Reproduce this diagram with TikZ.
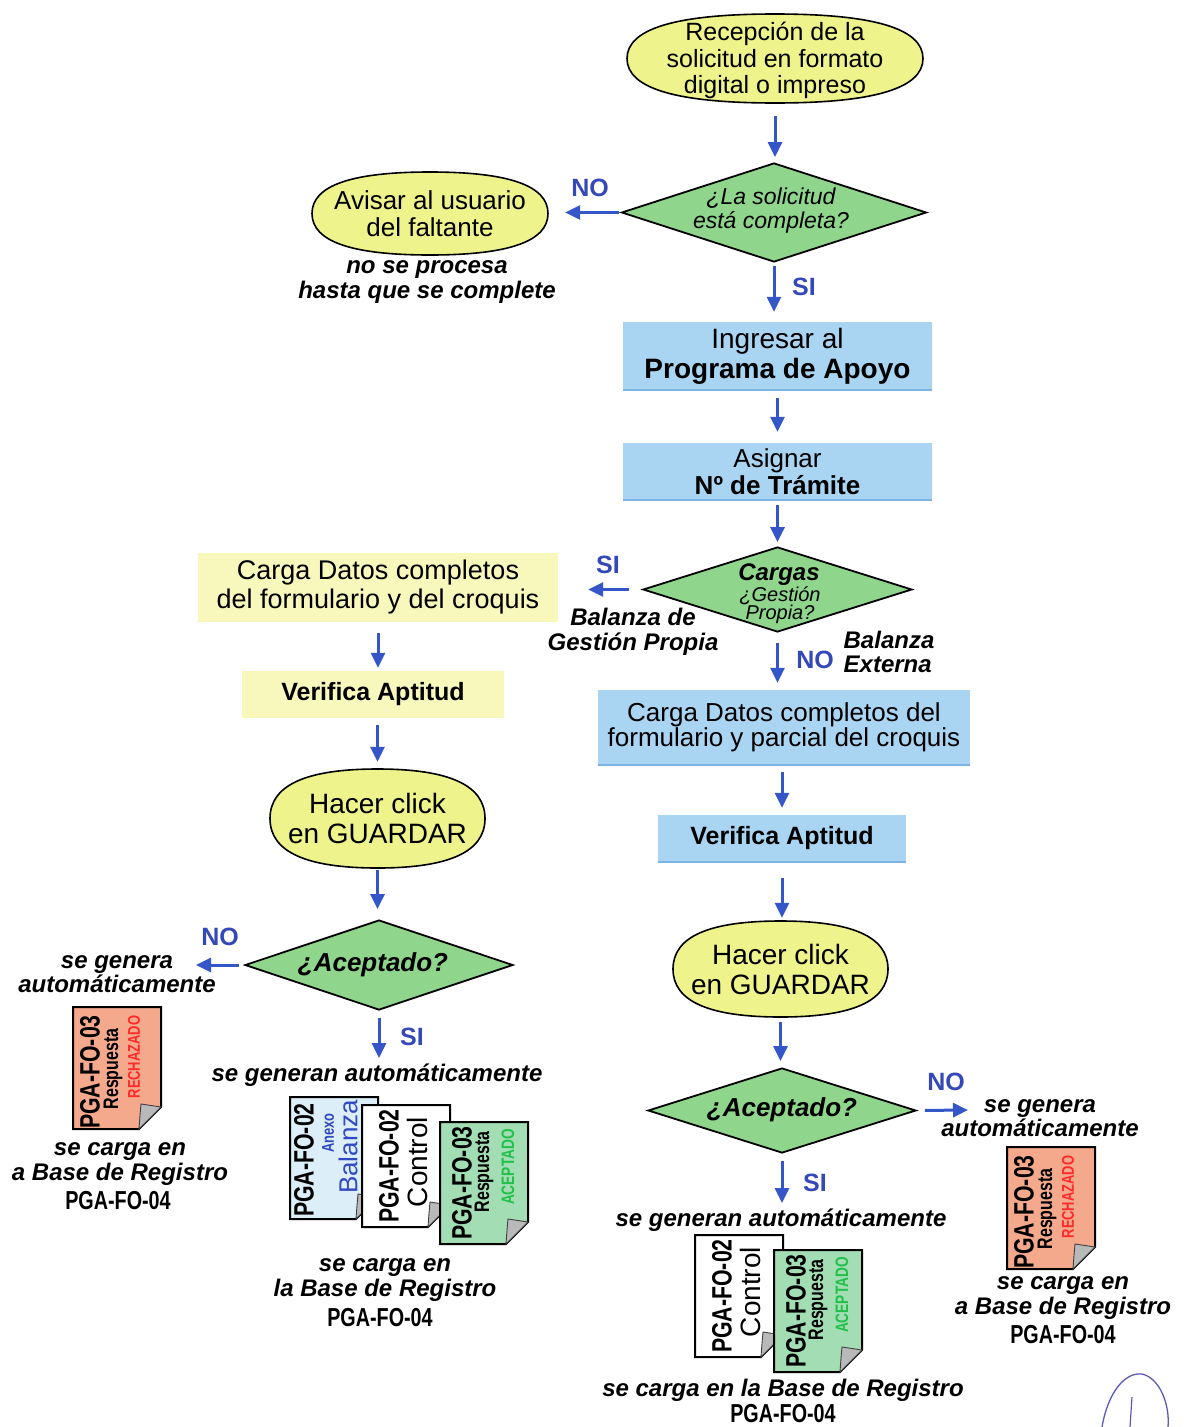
\documentclass[tikz,border=0pt]{standalone}
\usepackage{fontspec}
\setmainfont{Liberation Sans}
\newfontfamily\narrowf[FakeStretch=0.76]{Liberation Sans}
\usetikzlibrary{shapes.geometric,arrows.meta}
\definecolor{ellfill}{HTML}{EEF38C}
\definecolor{diafill}{HTML}{8FD68C}
\definecolor{bluebox}{HTML}{A9D4F2}
\definecolor{blueedge}{HTML}{7DB4E4}
\definecolor{yelbox}{HTML}{F8F8BC}
\definecolor{arrowblue}{HTML}{3556C8}
\definecolor{lblblue}{HTML}{3548B8}
\definecolor{rejfill}{HTML}{F4A88C}
\definecolor{accfill}{HTML}{A2DDB4}
\definecolor{anxfill}{HTML}{DCEEF8}
\definecolor{rejtext}{HTML}{FF2A2A}
\definecolor{acctext}{HTML}{22C04A}
\definecolor{anxtext}{HTML}{3048C0}
\definecolor{sigcol}{HTML}{5A5AB8}
% full oval: centre x, centre y, half width, half height
\newcommand{\fulloval}[4]{%
  \filldraw[fill=ellfill, draw=black, line width=1.6pt]
    (#1-#3,#2) .. controls (#1-#3,#2-0.68*#4) and (#1-0.66*#3,#2-#4) .. (#1,#2-#4)
    .. controls (#1+0.66*#3,#2-#4) and (#1+#3,#2-0.68*#4) .. (#1+#3,#2)
    .. controls (#1+#3,#2+0.68*#4) and (#1+0.66*#3,#2+#4) .. (#1,#2+#4)
    .. controls (#1-0.66*#3,#2+#4) and (#1-#3,#2+0.68*#4) .. (#1-#3,#2) -- cycle;}
\newcommand{\docframe}[3]{%
  \begin{scope}[shift={(#1,#2)}]
  \filldraw[fill=#3, draw=black, line width=2pt, line join=miter] (0,0) -- (88,0) -- (88,100) -- (66,122) -- (0,122) -- cycle;
  \filldraw[fill=gray!55, draw=black!75, line width=0.9pt] (88,100) .. controls (78,99) .. (68,97) .. controls (67,108) .. (66,122) -- cycle;
  \end{scope}}
\newcommand{\mkdocrej}[3]{%
  \docframe{#2}{#3}{rejfill}
  \begin{scope}[shift={(#2,#3)}]
  \node[dtxt, font=\narrowf\bfseries\fontsize{28}{28}\selectfont] (#1a) at (17,65) {PGA-FO-03};
  \node[dtxt, font=\narrowf\bfseries\fontsize{21}{21}\selectfont] (#1b) at (40,62) {Respuesta};
  \node[dtxt, text=rejtext, font=\narrowf\bfseries\fontsize{17}{17}\selectfont] (#1c) at (61,50) {RECHAZADO};
  \end{scope}}
\newcommand{\mkdocacc}[3]{%
  \docframe{#2}{#3}{accfill}
  \begin{scope}[shift={(#2,#3)}]
  \node[dtxt, font=\narrowf\bfseries\fontsize{28}{28}\selectfont] (#1a) at (22,61) {PGA-FO-03};
  \node[dtxt, font=\narrowf\bfseries\fontsize{21}{21}\selectfont] (#1b) at (44,50) {Respuesta};
  \node[dtxt, text=acctext, font=\narrowf\bfseries\fontsize{18}{18}\selectfont] (#1c) at (68,45) {ACEPTADO};
  \end{scope}}
\newcommand{\mkdocctl}[3]{%
  \docframe{#2}{#3}{white}
  \begin{scope}[shift={(#2,#3)}]
  \node[dtxt, font=\narrowf\bfseries\fontsize{28}{28}\selectfont] (#1a) at (27,61) {PGA-FO-02};
  \node[dtxt, font=\fontsize{28}{28}\selectfont] (#1b) at (55,57) {Control};
  \end{scope}}
\newcommand{\mkdocanx}[3]{%
  \docframe{#2}{#3}{anxfill}
  \begin{scope}[shift={(#2,#3)}]
  \node[dtxt, font=\narrowf\bfseries\fontsize{28}{28}\selectfont] (#1a) at (14,63) {PGA-FO-02};
  \node[dtxt, text=anxtext, font=\narrowf\bfseries\fontsize{17}{17}\selectfont] (#1b) at (38,36) {Anexo};
  \node[dtxt, text=anxtext, font=\fontsize{26}{26}\selectfont] (#1c) at (58,50) {Balanza};
  \end{scope}}
\begin{document}
\begin{tikzpicture}[x=1pt,y=-1pt,
  ovaltxt/.style={rectangle, inner sep=0pt, align=center},
  dia/.style={diamond, draw=black, line width=1.8pt, fill=diafill, inner sep=0pt},
  bbox/.style={rectangle, fill=bluebox, inner sep=0pt, align=center},
  ybox/.style={rectangle, fill=yelbox, inner sep=0pt, align=center},
  bedge/.style={draw=blueedge, line width=2pt},
  txt/.style={inner sep=0pt, align=center},
  dtxt/.style={inner sep=0pt, rotate=90},
  arr/.style={draw=arrowblue, line width=3pt, -{Triangle[length=15pt,width=14pt]}},
  lbl/.style={text=lblblue, font=\bfseries\fontsize{25}{25}\selectfont, inner sep=0pt},
  bi/.style={font=\bfseries\itshape\fontsize{24}{24.5}\selectfont},
  pga/.style={font=\narrowf\bfseries\fontsize{26}{26}\selectfont, inner sep=0pt},
]
\fill[white] (0,0) rectangle (1187,1427);
\useasboundingbox (0,0) rectangle (1187,1427);

% ---------- top part
\fulloval{775}{58.5}{148}{44.5}
\node[ovaltxt, minimum width=296pt, minimum height=89pt, font=\fontsize{25}{26.5}\selectfont] (e1) at (775,60.5) {Recepción de la\\solicitud en formato\\digital o impreso};

\node[dia, minimum width=305pt, minimum height=99pt] (d1) at (774,212.5) {};
\node[txt, font=\itshape\fontsize{23}{24}\selectfont] (d1t) at (771,211) {¿La solicitud\\está completa?};

\fulloval{430}{213.5}{118}{41.5}
\node[ovaltxt, minimum width=236pt, minimum height=83pt, font=\fontsize{26}{27}\selectfont] (e2) at (430,213.5) {Avisar al usuario\\del faltante};
\node[txt, bi] (np) at (427,282) {no se procesa\\hasta que se complete};
\node[lbl] (no1) at (590,188) {NO};
\node[lbl] (si1) at (804,287) {SI};

\node[bbox, minimum width=309pt, minimum height=68pt, font=\fontsize{28}{30}\selectfont] (b1) at (777.5,356) {Ingresar al\\\textbf{Programa de Apoyo}};
\draw[bedge] (b1.south west) -- (b1.south east);
\node[bbox, minimum width=309pt, minimum height=57pt, font=\fontsize{26}{27}\selectfont] (b2) at (777.5,471.5) {Asignar\\\textbf{Nº de Trámite}};
\draw[bedge] (b2.south west) -- (b2.south east);

\node[dia, minimum width=269pt, minimum height=85pt] (d2) at (777.5,589.5) {};
\node[txt, font=\bfseries\itshape\fontsize{24}{24}\selectfont] (d2a) at (779,575) {Cargas};
\node[txt, font=\itshape\fontsize{20}{18}\selectfont] (d2b) at (780,605) {¿Gestión\\Propia?};
\node[lbl] (si2) at (608,565) {SI};
\node[txt, bi] (bal1) at (633,632) {Balanza de\\Gestión Propia};
\node[lbl] (no2) at (815,660) {NO};
\node[txt, bi, align=left] (bal2) at (889,652) {Balanza\\Externa};

\node[ybox, minimum width=360pt, minimum height=69pt, font=\fontsize{27}{29}\selectfont] (y1) at (378,587.5) {Carga Datos completos\\del formulario y del croquis};

% ---------- right column
\node[bbox, minimum width=372pt, minimum height=75pt, font=\fontsize{26}{25}\selectfont] (b3) at (784,727.5) {Carga Datos completos del\\formulario y parcial del croquis};
\draw[bedge] (b3.south west) -- (b3.south east);
\node[bbox, minimum width=248pt, minimum height=47pt, font=\bfseries\fontsize{25}{25}\selectfont] (b4) at (782,838.5) {Verifica Aptitud};
\draw[bedge] (b4.south west) -- (b4.south east);
\fulloval{780.5}{969}{107.5}{48}
\node[ovaltxt, minimum width=215pt, minimum height=96pt, font=\fontsize{28}{30}\selectfont] (e3) at (780.5,969) {Hacer click\\en GUARDAR};
\node[dia, minimum width=268pt, minimum height=85pt] (d3) at (782,1110.5) {};
\node[txt, font=\bfseries\itshape\fontsize{26}{26}\selectfont] (d3t) at (782,1110) {¿Aceptado?};
\node[lbl] (no3) at (946,1082) {NO};
\coordinate (c11) at (968,1110);
\node[txt, bi] (sg2) at (1040,1118) {se genera\\automáticamente};
\mkdocrej{rr}{1007}{1147}
\node[txt, bi] (sc3) at (1063,1298) {se carga en\\a Base de Registro};
\node[pga] (p3) at (1063,1335) {PGA-FO-04};
\node[lbl] (si3) at (815,1183) {SI};
\coordinate (c12) at (782,1203);
\node[txt, bi] (sg3) at (781,1220) {se generan automáticamente};
\mkdocctl{rc}{695}{1235}
\mkdocacc{ra}{774}{1250}
\node[txt, bi] (sc4) at (783,1390) {se carga en la Base de Registro};
\node[pga] (p4) at (783,1414) {PGA-FO-04};

% ---------- left column
\node[ybox, minimum width=262pt, minimum height=47pt, font=\bfseries\fontsize{25}{25}\selectfont] (y2) at (373,694.5) {Verifica Aptitud};
\fulloval{377.5}{818.5}{107.5}{49.5}
\node[ovaltxt, minimum width=215pt, minimum height=99pt, font=\fontsize{28}{30}\selectfont] (e4) at (377.5,818.5) {Hacer click\\en GUARDAR};
\node[dia, minimum width=268pt, minimum height=90pt] (d4) at (379,965) {};
\node[txt, font=\bfseries\itshape\fontsize{26}{26}\selectfont] (d4t) at (373,965) {¿Aceptado?};
\node[lbl] (no4) at (220,937) {NO};
\coordinate (c16) at (196,965);
\node[txt, bi] (sg1) at (117,974) {se genera\\automáticamente};
\mkdocrej{lr}{73}{1007}
\node[txt, bi] (sc1) at (120,1164) {se carga en\\a Base de Registro};
\node[pga] (p1) at (118,1201) {PGA-FO-04};
\node[lbl] (si4) at (412,1037) {SI};
\coordinate (c17) at (379,1058);
\node[txt, bi] (sg4) at (377,1075) {se generan automáticamente};
\mkdocanx{lx}{290}{1097}
\mkdocctl{lc}{362}{1105}
\mkdocacc{la}{440}{1122}
\node[txt, bi] (sc2) at (385,1280) {se carga en\\la Base de Registro};
\node[pga] (p2) at (380,1318) {PGA-FO-04};

% ---------- connectors
\draw[arr, shorten <=11pt, shorten >=5pt] (e1.south) -- (e1.south |- d1.north);
\draw[arr, shorten <=2pt, shorten >=17pt] (d1.west) -- (d1.west -| e2.east);
\draw[arr, shorten <=3pt, shorten >=10pt] (d1.south) -- (d1.south |- b1.north);
\draw[arr, shorten <=8pt, shorten >=11pt] (b1.south) -- (b1.south |- b2.north);
\draw[arr, shorten <=5pt, shorten >=4pt] (b2.south) -- (b2.south |- d2.north);
\draw[arr, shorten <=13pt, shorten >=30pt] (d2.west) -- (d2.west -| y1.east);
\draw[arr, shorten <=10pt, shorten >=7pt] (d2.south) -- (d2.south |- b3.north);
\draw[arr, shorten <=7pt, shorten >=7pt] (b3.south -| b4.north) -- (b4.north);
\draw[arr, shorten <=16pt, shorten >=3pt] (b4.south) -- (b4.south |- e3.north);
\draw[arr, shorten <=5pt, shorten >=6pt] (e3.south) -- (e3.south |- d3.north);
\draw[arr, shorten <=8pt] (d3.east) -- (c11);
\draw[arr, shorten <=7pt] (d3.south) -- (c12);
\draw[arr, shorten <=11pt, shorten >=3pt] (y1.south) -- (y1.south |- y2.north);
\draw[arr, shorten <=7pt, shorten >=7pt] (y2.south -| e4.north) -- (e4.north);
\draw[arr, shorten <=2pt, shorten >=10pt] (e4.south) -- (e4.south |- d4.north);
\draw[arr, shorten <=5pt] (d4.west) -- (c16);
\draw[arr, shorten <=7pt] (d4.south) -- (c17);

% ---------- handwritten mark
\draw[sigcol, line width=1.3pt] (1102,1427) .. controls (1108,1392) and (1125,1372) .. (1142,1374) .. controls (1160,1378) and (1170,1405) .. (1168,1427);
\draw[sigcol, line width=1.2pt] (1132,1397) -- (1130,1427);
\end{tikzpicture}
\end{document}
